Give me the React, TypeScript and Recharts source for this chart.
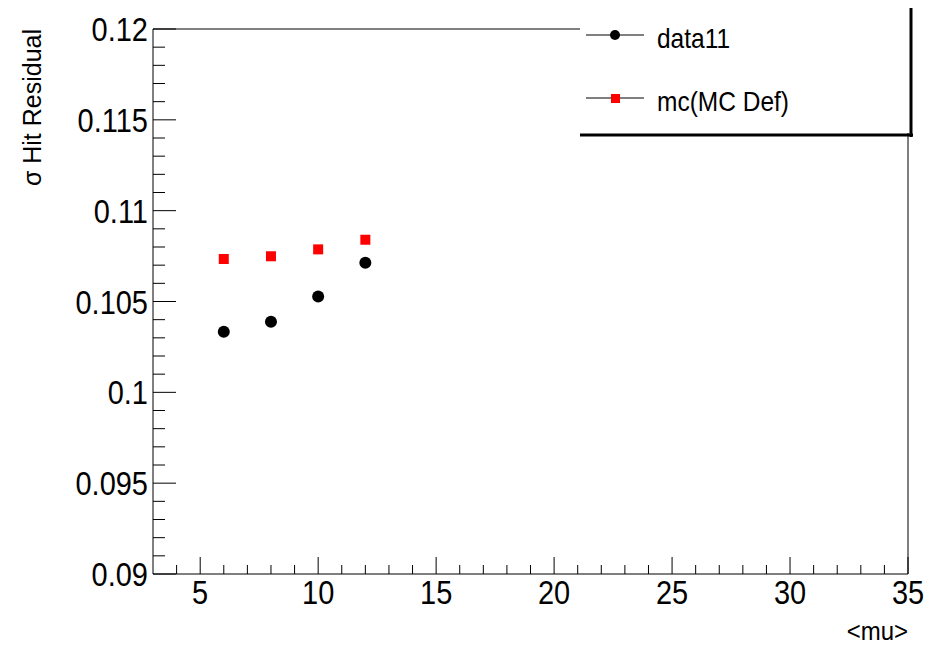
import { ScatterChart, Scatter, XAxis, YAxis, ReferenceLine, Legend } from 'recharts'

const FONT = "'Liberation Sans', Arial, Helvetica, sans-serif"

// <mu> values and sigma of hit residuals
const muValues = [6, 8, 10, 12]
const data11Sigma = [0.10334, 0.10389, 0.10527, 0.10713]
const mcSigma = [0.10734, 0.10749, 0.10787, 0.1084]

const xMajorTicks = [5, 10, 15, 20, 25, 30, 35]
const xTickLabels = ['5', '10', '15', '20', '25', '30', '35']
const yMajorTicks = [0.09, 0.095, 0.1, 0.105, 0.11, 0.115, 0.12]
const yTickLabels = ['0.09', '0.095', '0.1', '0.105', '0.11', '0.115', '0.12']

// minor ticks every 1 in x and every 0.001 in y
const xTicks = Array.from({ length: 32 }, (_, i) => 4 + i)
const yTicks = Array.from({ length: 31 }, (_, i) => Number((0.09 + i * 0.001).toFixed(3)))

const data11 = muValues.map((mu, i) => ({ x: mu, y: data11Sigma[i] }))
const mc = muValues.map((mu, i) => ({ x: mu, y: mcSigma[i] }))

// ROOT's helvetica comes out a bit taller than Liberation Sans
function Label(props: any) {
  const { x, y, sy = 1.12, rotate = 0, size, anchor = 'start', children } = props
  return (
    <text
      transform={`translate(${x} ${y}) rotate(${rotate}) scale(1 ${sy})`}
      textAnchor={anchor}
      fontSize={size}
      fontFamily={FONT}
      fill="#000"
    >
      {children}
    </text>
  )
}

function XTick(props: any) {
  const { x, y, payload } = props
  const idx = xMajorTicks.indexOf(payload.value)
  const major = idx >= 0
  return (
    <g>
      <line x1={x} x2={x} y1={y} y2={y - (major ? 17 : 9)} stroke="#000" />
      {major && (
        <Label x={x} y={y + 30} size={29} anchor="middle">
          {xTickLabels[idx]}
        </Label>
      )}
    </g>
  )
}

function YTick(props: any) {
  const { x, y, payload } = props
  const idx = yMajorTicks.findIndex((t) => Math.abs(t - payload.value) < 1e-7)
  const major = idx >= 0
  return (
    <g>
      <line x1={x} x2={x + (major ? 23 : 12)} y1={y} y2={y} stroke="#000" />
      {major && (
        <Label x={x - 5} y={y + 12} size={29} anchor="end">
          {yTickLabels[idx]}
        </Label>
      )}
    </g>
  )
}

function Dot(props: any) {
  return <circle cx={props.cx} cy={props.cy} r={6} fill="#000" />
}

function Square(props: any) {
  return <rect x={props.cx - 5} y={props.cy - 5} width={10} height={10} fill="#ff0000" />
}

function RootLegend(props: any) {
  const items = props.payload ?? []
  return (
    <svg width={333} height={129} style={{ display: 'block' }}>
      <rect x={0} y={0} width={330} height={125} fill="#fff" />
      <line x1={331} x2={331} y1={0} y2={129} stroke="#000" strokeWidth={3} />
      <line x1={0} x2={333} y1={127} y2={127} stroke="#000" strokeWidth={3} />
      {items.map((item: any, i: number) => {
        const cy = 27 + i * 63
        return (
          <g key={item.value}>
            <line x1={6} x2={64} y1={cy} y2={cy} stroke="#000" />
            {i === 0 ? (
              <circle cx={35} cy={cy} r={5} fill="#000" />
            ) : (
              <rect x={31} y={cy - 4} width={9} height={9} fill="#ff0000" />
            )}
            <Label x={77} y={cy + 13} size={24.5} sy={1.1}>
              {item.value}
            </Label>
          </g>
        )
      })}
    </svg>
  )
}

export default function App() {
  return (
    <div style={{ width: 930, height: 646, background: '#fff' }}>
      <style>{'body{margin:0}'}</style>
      <ScatterChart width={930} height={646} margin={{ top: 29, right: 22, bottom: 0, left: 0 }}>
        <XAxis
          type="number"
          dataKey="x"
          domain={[3, 35]}
          ticks={xTicks}
          interval={0}
          allowDataOverflow
          height={72}
          tickSize={0}
          tickMargin={0}
          tickLine={false}
          axisLine={{ stroke: '#000' }}
          tick={<XTick />}
          label={{
            content: (p: any) => (
              <Label x={p.viewBox.x + p.viewBox.width} y={p.viewBox.y + 66} size={24} sy={1.1} anchor="end">
                {'<mu>'}
              </Label>
            ),
          }}
        />
        <YAxis
          type="number"
          dataKey="y"
          domain={[0.09, 0.12]}
          ticks={yTicks}
          interval={0}
          allowDataOverflow
          width={153}
          tickSize={0}
          tickMargin={0}
          tickLine={false}
          axisLine={{ stroke: '#000' }}
          tick={<YTick />}
          label={{
            content: (p: any) => (
              <Label x={41} y={p.viewBox.y} rotate={-90} size={25} sy={1.05} anchor="end">
                σ Hit Residual
              </Label>
            ),
          }}
        />
        <ReferenceLine y={0.12} stroke="#000" />
        <ReferenceLine x={35} stroke="#000" />
        <Scatter name="data11" data={data11} shape={<Dot />} isAnimationActive={false} />
        <Scatter name="mc(MC Def)" data={mc} shape={<Square />} isAnimationActive={false} />
        <Legend
          layout="vertical"
          align="center"
          verticalAlign="middle"
          wrapperStyle={{ left: 580, top: 8, width: 333, height: 129 }}
          content={<RootLegend />}
        />
      </ScatterChart>
    </div>
  )
}
